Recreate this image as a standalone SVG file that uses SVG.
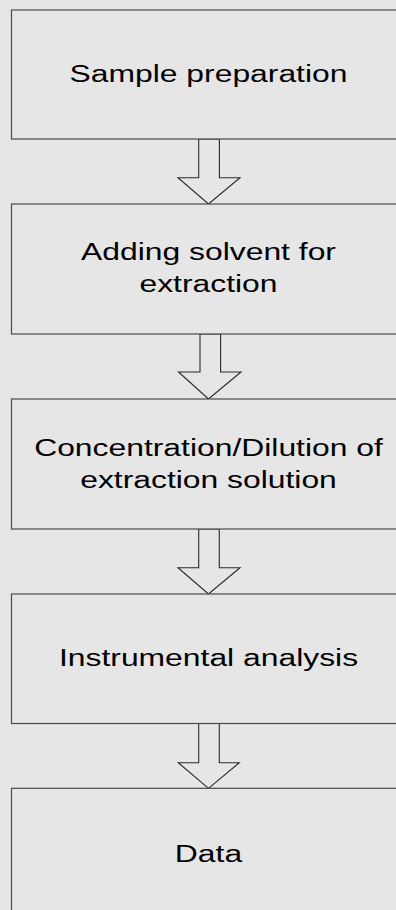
<svg xmlns="http://www.w3.org/2000/svg" width="396" height="910" viewBox="0 0 396 910">
<style>
.box{fill:#e6e6e6;stroke:#4a4a4a;stroke-width:1.2}
.arr{fill:#e6e6e6;stroke:#2a2a2a;stroke-width:1.1;stroke-linejoin:miter}
.t{font-family:"Liberation Sans",Arial,sans-serif;font-size:24.5px;fill:#000;text-anchor:middle}
</style>
<rect width="396" height="910" fill="#e6e6e6"/>
<g id="connectors">
<polygon class="arr" points="198.7,139 198.7,177.7 178,177.7 208.5,204 240,177.7 219.4,177.7 219.4,139"/>
<polygon class="arr" points="200,334 200,372 178.5,372 208.5,399 241,372 220.6,372 220.6,334"/>
<polygon class="arr" points="198.7,529 198.7,567.7 178,567.7 208.5,594 240,567.7 219.3,567.7 219.3,529"/>
<polygon class="arr" points="198.7,723.5 198.7,762.7 178.3,762.7 208.5,788.3 239.3,762.7 219.3,762.7 219.3,723.5"/>
</g>
<g id="n1">
<rect class="box" x="11.5" y="10" width="420" height="129"/>
<g transform="translate(208.5,0) scale(1.3,1)"><text class="t" x="0" y="82">Sample preparation</text></g>
</g>
<g id="n2">
<rect class="box" x="11.5" y="204" width="420" height="130"/>
<g transform="translate(208.5,0) scale(1.3,1)"><text class="t" x="0" y="260">Adding solvent for</text><text class="t" x="0" y="292">extraction</text></g>
</g>
<g id="n3">
<rect class="box" x="11.5" y="399" width="420" height="130"/>
<g transform="translate(208.5,0) scale(1.3,1)"><text class="t" x="0" y="455.7">Concentration/Dilution of</text><text class="t" x="0" y="488.3">extraction solution</text></g>
</g>
<g id="n4">
<rect class="box" x="11.5" y="594" width="420" height="129.5"/>
<g transform="translate(208.5,0) scale(1.3,1)"><text class="t" x="0" y="665.7">Instrumental analysis</text></g>
</g>
<g id="n5">
<rect class="box" x="11.5" y="788.3" width="420" height="150"/>
<g transform="translate(208.5,0) scale(1.3,1)"><text class="t" x="0" y="861.7">Data</text></g>
</g>
</svg>
